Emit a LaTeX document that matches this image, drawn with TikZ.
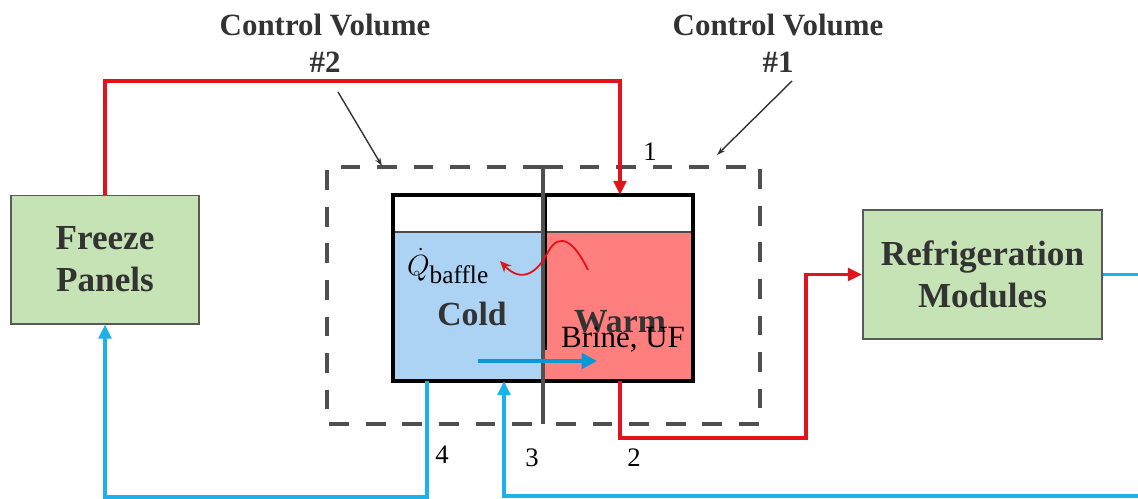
\documentclass[tikz,border=0pt]{standalone}
\usepackage{amsmath}
\usepackage{fontspec}
\setmainfont{Liberation Serif}
\usepackage{tikz}
\usetikzlibrary{arrows.meta,positioning,calc}
\definecolor{panelgreen}{RGB}{197,227,180}
\definecolor{boxgray}{RGB}{89,89,89}
\definecolor{cvgray}{RGB}{80,80,80}
\definecolor{textgray}{RGB}{51,51,51}
\definecolor{coldfill}{RGB}{172,211,243}
\definecolor{warmfill}{RGB}{255,127,127}
\definecolor{hotline}{RGB}{227,19,27}
\definecolor{coolline}{RGB}{28,176,236}
\definecolor{innerblue}{RGB}{10,152,212}
\tikzset{
  unitbox/.style={draw=boxgray, fill=panelgreen, line width=1.4pt, text=textgray, align=center,
    font=\fontsize{25}{30}\selectfont\bfseries},
  cvlabel/.style={text=textgray, align=center, font=\fontsize{22}{26}\selectfont\bfseries},
  hotflow/.style={draw=hotline, line width=2.2pt},
  coolflow/.style={draw=coolline, line width=2.2pt},
  cvbound/.style={draw=cvgray, line width=2.6pt, dash pattern={on 14pt off 12pt}},
  pointer/.style={draw=textgray, line width=1pt, -{Stealth[length=6pt,width=4pt]}},
  statelabel/.style={font=\fontsize{19}{22}\selectfont}
}
\begin{document}
\begin{tikzpicture}[x=0.025cm, y=-0.025cm]
\useasboundingbox (0,0) rectangle (1138,499);
% blocks
\node[unitbox, minimum width=4.7cm, minimum height=3.2cm] (fp) at (105,259.5) {Freeze\\Panels};
\node[unitbox, minimum width=5.975cm, minimum height=3.225cm] (rm) at (982.5,274.5) {Refrigeration\\Modules};

% tank with baffle
\fill[white] (393,195) rectangle (693,232);
\fill[coldfill] (393,232) rectangle (545,381);
\fill[warmfill] (545,232) rectangle (693,381);
\draw[line width=0.8pt, black!70] (393,232) -- (693,232);
\node[draw, line width=2.2pt, minimum width=7.5cm, minimum height=4.65cm] (tank) at (543,288) {};
\draw[line width=1.2pt] (546,195) -- (546,350);

% control volumes
\draw[cvbound] (543,167) -- (327,167) -- (327,424) -- (543,424);
\draw[cvbound] (543,167) -- (760,167) -- (760,424) -- (543,424);
\draw[draw=cvgray, line width=2.6pt] (543,167) -- (543,424);

% ports on the tank
\coordinate (in1) at (620,195);
\coordinate (out2) at (620,381);
\coordinate (in3) at (504,381);
\coordinate (out4) at (427,381);
\coordinate (topline) at (0,81);
\coordinate (lowline) at (0,497);
\coordinate (edgeR) at (1138,273);
\coordinate (edgeB) at (1138,496);

% flows
\draw[hotflow, -{Triangle[length=10pt,width=9pt]}] (fp.north) |- (topline -| in1) -- (in1);
\draw[hotflow, -{Triangle[length=10pt,width=9pt]}] (out2) |- (806,438) |- (rm.west);
\draw[coolflow] (rm.east) -- (rm.east -| edgeR);
\draw[coolflow, -{Triangle[length=10pt,width=9pt]}] (edgeB) -| (in3);
\draw[coolflow, -{Triangle[length=10pt,width=9pt]}] (out4) |- (lowline -| fp.south) -- (fp.south);
\draw[draw=innerblue, line width=2.8pt, -{Triangle[length=11pt,width=11pt]}] (478,361) -- (597,361);

% heat through the baffle
\draw[draw=hotline, line width=1.3pt, -{Stealth[length=8pt,width=7pt]}]
  (588,270) .. controls (575,243) and (560,230) .. (548,252)
  .. controls (538,272) and (522,284) .. (500,261);

% texts in the tank
\node[text=textgray, font=\fontsize{24}{28}\selectfont\bfseries] (cold) at (472,314) {Cold};
\node[text=textgray, font=\fontsize{24}{28}\selectfont\bfseries] (warm) at (620,322) {Warm};
\node[font=\fontsize{22}{26}\selectfont] (brine) at (623,340) {Brine, UF};
\node[font=\fontsize{22}{26}\selectfont] (qb) at (448,266) {$\dot{Q}_{\textrm{\fontsize{18}{20}\selectfont baffle}}$};

% state points
\node[statelabel] (n1) at (650,152) {1};
\node[statelabel] (n2) at (634,458) {2};
\node[statelabel] (n3) at (532,458) {3};
\node[statelabel] (n4) at (442,455) {4};

% control volume labels
\node[cvlabel] (cv2) at (325,43) {Control Volume\\\#2};
\node[cvlabel] (cv1) at (778,43) {Control Volume\\\#1};
\coordinate (cv2tail) at (338,92);
\coordinate (cv2head) at (382,166);
\coordinate (cv1tail) at (792,81);
\coordinate (cv1head) at (717,155);
\draw[pointer] (cv2tail) -- (cv2head);
\draw[pointer] (cv1tail) -- (cv1head);
\end{tikzpicture}
\end{document}
